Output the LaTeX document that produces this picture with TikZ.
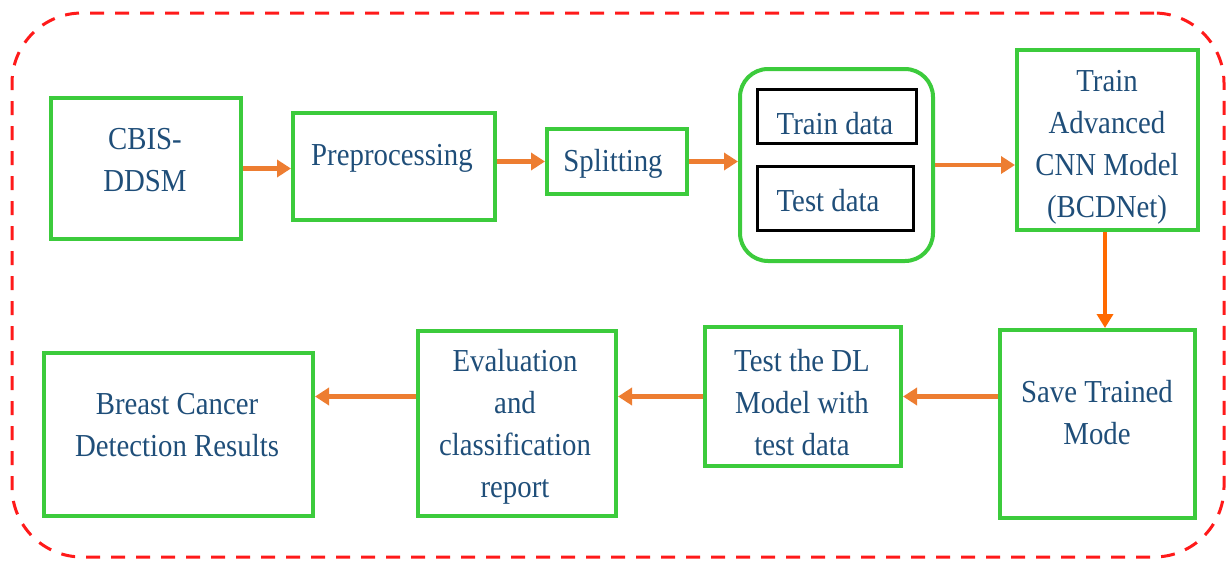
\documentclass[tikz,border=0pt]{standalone}
\usepackage{fontspec}
\setmainfont{Liberation Serif}[FakeStretch=0.9]
\usetikzlibrary{arrows.meta}
\definecolor{gboxc}{HTML}{3CCB3C}
\definecolor{tcol}{HTML}{1F4E79}
\definecolor{arrc}{HTML}{ED7D31}
\definecolor{arrd}{HTML}{FF6A00}
\definecolor{framec}{HTML}{FF1A1A}
\begin{document}
\begin{tikzpicture}[x=1pt,y=-1pt,
  gbox/.style={draw=gboxc,line width=4pt,inner sep=0pt},
  kbox/.style={draw=black,line width=3pt,inner sep=0pt},
  txt/.style={text=tcol,align=center,inner sep=0pt,font=\fontsize{32}{42}\selectfont},
  flow/.style={draw=arrc,line width=4.5pt,-{Triangle[length=14pt,width=17pt]}},
  flowd/.style={draw=arrd,line width=4pt,-{Triangle[length=14pt,width=16pt]}}]
\useasboundingbox (0,0) rectangle (1229,563);
% frame
\node[draw=framec,line width=3pt,dash pattern=on 14pt off 11pt,rounded corners=70pt,
  minimum width=1212pt,minimum height=544pt,inner sep=0pt] (frame) at (618,285) {};
% boxes
\node[gbox,minimum width=190pt,minimum height=141pt] (cbis) at (146,168.5) {};
\node[gbox,minimum width=202pt,minimum height=107pt] (pre) at (394,166.5) {};
\node[gbox,minimum width=140pt,minimum height=65pt] (split) at (617,161.5) {};
\node[gbox,rounded corners=28pt,minimum width=193pt,minimum height=192pt] (cont) at (836.5,165) {};
\node[kbox,minimum width=159pt,minimum height=54pt] (traind) at (837,116.5) {};
\node[kbox,minimum width=156pt,minimum height=64pt] (testd) at (835.5,198.5) {};
\node[gbox,minimum width=181pt,minimum height=180pt] (cnn) at (1107.5,140) {};
\node[gbox,minimum width=195pt,minimum height=188pt] (save) at (1097.5,424) {};
\node[gbox,minimum width=196pt,minimum height=139pt] (tdl) at (803,396.5) {};
\node[gbox,minimum width=198pt,minimum height=185pt] (eval) at (517,423.5) {};
\node[gbox,minimum width=269pt,minimum height=163pt] (res) at (178.5,434.5) {};
% texts
\node[txt] (cbisT) at (145,160) {CBIS-\\DDSM};
\node[txt] (preT) at (392,158) {Preprocessing};
\node[txt] (splitT) at (613,164) {Splitting};
\node[txt] (traindT) at (835,124) {Train data};
\node[txt] (testdT) at (828,201) {Test data};
\node[txt] (cnnT) at (1107,147) {Train\\Advanced\\CNN Model\\(BCDNet)};
\node[txt] (saveT) at (1097,413) {Save Trained\\Mode};
\node[txt] (tdlT) at (802,403) {Test the DL\\Model with\\test data};
\node[txt] (evalT) at (515,427) {Evaluation\\and\\classification\\report};
\node[txt] (resT) at (177,425) {Breast Cancer\\Detection Results};
% connectors
\draw[flow] (cbis.east) -- (cbis.east -| pre.west);
\draw[flow] (pre.east |- split.west) -- (split.west);
\draw[flow] (split.east) -- (split.east -| cont.west);
\draw[flow] (cont.east) -- (cont.east -| cnn.west);
\draw[flowd] (cnn.south -| 1105,0) -- (save.north -| 1105,0);
\draw[flow] (save.west |- tdl.east) -- (tdl.east);
\draw[flow] (tdl.west) -- (tdl.west -| eval.east);
\draw[flow] (eval.west |- tdl.west) -- (res.east |- tdl.west);
\end{tikzpicture}
\end{document}
